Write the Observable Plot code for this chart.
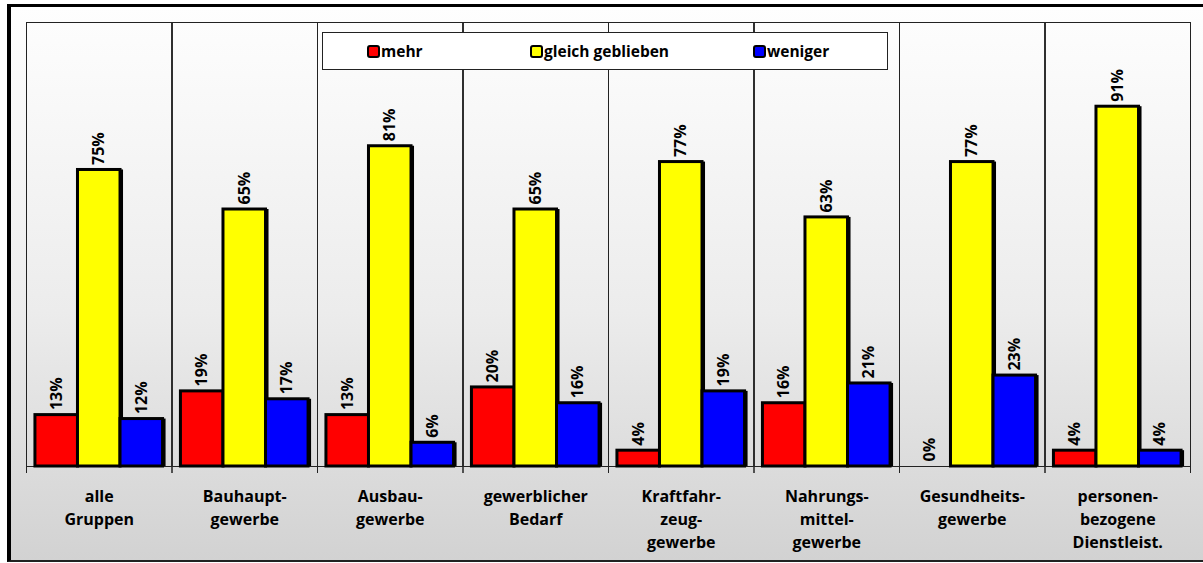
<!DOCTYPE html>
<html>
<head>
<meta charset="utf-8">
<script src="https://cdn.jsdelivr.net/npm/d3@7"></script>
<script src="https://cdn.jsdelivr.net/npm/@observablehq/plot@0.6"></script>
<style>
  html, body { margin: 0; padding: 0; background: #ffffff; }
  #wrap { position: relative; width: 1203px; height: 563px; overflow: hidden; font-family: "Open Sans", sans-serif; }
  #bg { position: absolute; left: 7px; top: 4px; width: 1230px; height: 553px;
        border-left: 4px solid #000; border-top: 3px solid #000; border-bottom: 2px solid #222;
        background: linear-gradient(to bottom, #fefefe 0%, #ececec 55%, #d2d2d2 100%); }
  #chart { position: absolute; left: 0; top: 0; }
  #legend { position: absolute; left: 322px; top: 32px; width: 566px; height: 38px;
            background: #fff; border: 1.5px solid #222; box-sizing: border-box; }
  .item { position: absolute; top: 8px; display: flex; align-items: center;
          font-weight: 700; font-size: 15.5px; color: #000; line-height: 20px; }
  .sw { width: 9px; height: 9px; border: 2.5px solid #000; border-radius: 3px; margin-right: 1px; }
</style>
</head>
<body>
<div id="wrap">
  <div id="bg"></div>
  <div id="chart"></div>
  <div id="legend"></div>
</div>
<script>
const groups = ["alle\nGruppen", "Bauhaupt-\ngewerbe", "Ausbau-\ngewerbe", "gewerblicher\nBedarf",
  "Kraftfahr-\nzeug-\ngewerbe", "Nahrungs-\nmittel-\ngewerbe", "Gesundheits-\ngewerbe",
  "personen-\nbezogene\nDienstleist."];
const series = ["mehr", "gleich geblieben", "weniger"];
const colors = ["#ff0000", "#ffff00", "#0000ff"];
const mehr = [13, 19, 13, 20, 4, 16, 0, 4];
const gleich = [75, 65, 81, 65, 77, 63, 77, 91];
const weniger = [12, 17, 6, 16, 19, 21, 23, 4];

const valuesBySeries = [mehr, gleich, weniger];
const rows = [];
groups.forEach((g, i) => {
  series.forEach((s, j) => rows.push({group: g, series: s, value: valuesBySeries[j][i]}));
});

const chart = Plot.plot({
  width: 1203,
  height: 563,
  marginLeft: 26,
  marginRight: 13,
  marginTop: 22,
  marginBottom: 97,
  style: {background: "transparent", fontFamily: "Open Sans, sans-serif"},
  fx: {domain: groups, padding: 0, round: false, axis: null},
  x: {domain: series, paddingInner: 0, paddingOuter: 0.21, round: false, axis: null},
  y: {domain: [0, 112.3], axis: null},
  color: {domain: series, range: colors},
  marks: [
    Plot.frame({stroke: "#222", strokeWidth: 1}),
    Plot.frame({anchor: "left", stroke: "#222", strokeWidth: 1, insetBottom: -6}),
    Plot.frame({anchor: "right", stroke: "#222", strokeWidth: 1, insetBottom: -6}),
    Plot.barY(rows, {fx: "group", x: "series", y: "value", fill: "#000", dx: 3, filter: d => d.value > 0}),
    Plot.barY(rows, {fx: "group", x: "series", y: "value", fill: "series", stroke: "#000", strokeWidth: 3, filter: d => d.value > 0}),
    Plot.text(rows, {fx: "group", x: "series", y: "value", text: d => d.value + "%", rotate: -90,
      textAnchor: "start", dy: -5, fontWeight: "bold", fontSize: 16, fill: "#000"}),
    Plot.text(groups, {fx: d => d, text: d => d, frameAnchor: "bottom", lineAnchor: "top",
      dy: 19, fontWeight: "bold", fontSize: 16, lineHeight: 1.45, fill: "#000"})
  ]
});
document.getElementById("chart").appendChild(chart);

const legendPos = [44, 207, 430];
const legend = document.getElementById("legend");
series.forEach((s, j) => {
  const it = document.createElement("div");
  it.className = "item";
  it.style.left = legendPos[j] + "px";
  const sw = document.createElement("div");
  sw.className = "sw";
  sw.style.background = colors[j];
  const t = document.createElement("span");
  t.textContent = s;
  it.appendChild(sw);
  it.appendChild(t);
  legend.appendChild(it);
});
</script>
</body>
</html>
